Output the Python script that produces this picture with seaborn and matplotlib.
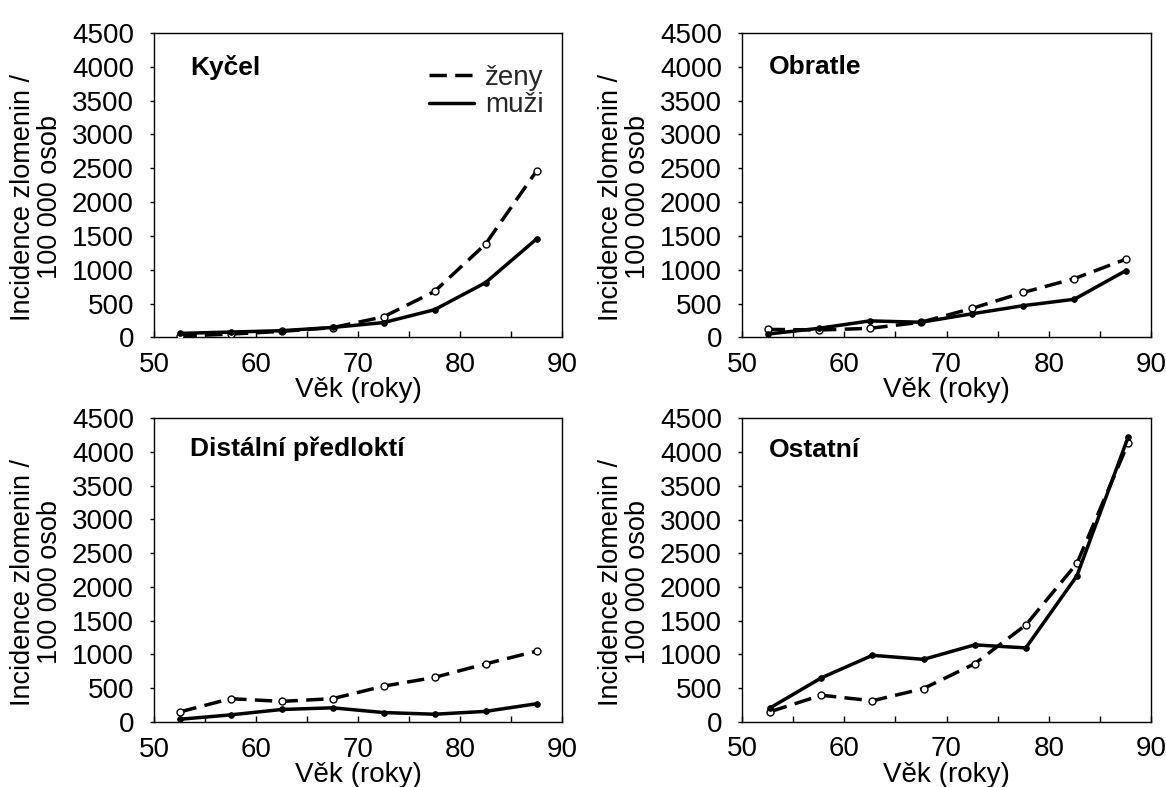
import numpy as np
import pandas as pd
import matplotlib
matplotlib.use("Agg")
import matplotlib.pyplot as plt
import seaborn as sns

# ---- data ----
ages = [52.5, 57.5, 62.5, 67.5, 72.5, 77.5, 82.5, 87.5]
ages_other = [52.75, 57.75, 62.75, 67.75, 72.75, 77.75, 82.75, 87.75]

titles = ["Kyčel", "Obratle", "Distální předloktí", "Ostatní"]

hip_women = [20, 50, 90, 145, 305, 680, 1380, 2460]
hip_men = [60, 80, 100, 148, 220, 410, 810, 1455]

vert_women = [120, 110, 135, 225, 430, 665, 870, 1155]
vert_men = [50, 135, 245, 225, 350, 470, 565, 985]

fore_women = [148, 345, 305, 345, 530, 660, 860, 1048]
fore_men = [40, 105, 185, 210, 140, 115, 157, 270]

other_women = [148, 393, 310, 492, 860, 1435, 2350, 4130]
other_men = [205, 650, 985, 925, 1140, 1095, 2165, 4220]

legend_labels = ["ženy", "muži"]
xlabel = "Věk (roky)"
ylabel = "Incidence zlomenin /\n100 000 osob"
yticks = [0, 500, 1000, 1500, 2000, 2500, 3000, 3500, 4000, 4500]
xticks = [50, 60, 70, 80, 90]

panels = [
    (ages, hip_women, hip_men),
    (ages, vert_women, vert_men),
    (ages, fore_women, fore_men),
    (ages_other, other_women, other_men),
]

# ---- style ----
sns.set_theme(style="white")
plt.rcParams["font.family"] = ["Liberation Sans", "DejaVu Sans"]
plt.rcParams["axes.edgecolor"] = "black"
plt.rcParams["axes.linewidth"] = 1.0

fig = plt.figure(figsize=(11.66, 7.87), dpi=100)

rects = [
    (0.1321, 0.5712, 0.3499, 0.3869),
    (0.6364, 0.5712, 0.3508, 0.3869),
    (0.1321, 0.0826, 0.3499, 0.3863),
    (0.6364, 0.0830, 0.3508, 0.3853),
]
title_pos = [(0.088, 0.888), (0.065, 0.888), (0.088, 0.898), (0.065, 0.895)]

FS = 20
for i, (rect, (x, w, m)) in enumerate(zip(rects, panels)):
    ax = fig.add_axes(rect)
    df = pd.DataFrame({"age": x, "women": w, "men": m})
    sns.lineplot(data=df, x="age", y="women", ax=ax, color="black",
                 linewidth=2.5, linestyle=(0, (5.0, 2.4)), marker="o",
                 markersize=5, markerfacecolor="white",
                 markeredgecolor="black", markeredgewidth=1.0,
                 label=legend_labels[0], zorder=3)
    sns.lineplot(data=df, x="age", y="men", ax=ax, color="black",
                 linewidth=2.5, marker="o", markersize=4,
                 markerfacecolor="black", markeredgecolor="black",
                 label=legend_labels[1], zorder=4)
    ax.set_xlim(50, 90)
    ax.set_ylim(0, 4500)
    ax.set_xticks(xticks)
    ax.set_xticks([55, 65, 75, 85], minor=True)
    ax.set_yticks(yticks)
    ax.tick_params(axis="x", which="both", direction="in", length=4,
                   width=1, colors="black", labelsize=FS, pad=10.5,
                   bottom=True)
    ax.tick_params(axis="y", direction="out", length=3, width=1,
                   colors="black", labelsize=FS, pad=11.5, left=True)
    for sp in ax.spines.values():
        sp.set_color("black")
        sp.set_linewidth(1.0)
    ax.set_xlabel(xlabel, fontsize=FS, color="black", labelpad=-0.5)
    ax.set_ylabel(ylabel, fontsize=19.5, color="black", linespacing=1.05)
    ax.yaxis.set_label_coords(-0.222, 0.46)
    ax.text(title_pos[i][0], title_pos[i][1], titles[i],
            transform=ax.transAxes, fontsize=19, fontweight="bold",
            ha="left", va="center", color="black")
    if i == 0:
        ax.legend(loc="upper left", bbox_to_anchor=(0.675, 0.895),
                  frameon=False, fontsize=FS, handlelength=1.6,
                  handletextpad=0.4, labelspacing=0.05, borderpad=0,
                  borderaxespad=0)
        leg = ax.get_legend()
        for h in leg.legend_handles:
            h.set_marker("")
    else:
        lg = ax.get_legend()
        if lg is not None:
            lg.remove()

fig.savefig("out.png", dpi=100, facecolor="white")
